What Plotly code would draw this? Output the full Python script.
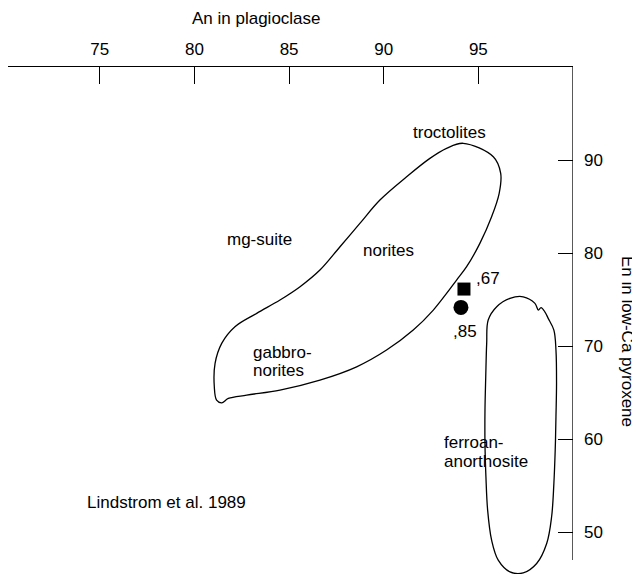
import plotly.graph_objects as go

# ---- data (An in plagioclase, En in low-Ca pyroxene) ----
mg_suite_an = [94.2, 95.79, 96.18, 96.1, 95.7, 95.08, 94.38, 93.85, 93.32, 92.62, 91.56, 90.15,
               88.57, 86.63, 84.52, 82.76, 81.79, 81.44, 81.17, 81.05, 81.09, 81.44, 82.14, 83.29,
               84.52, 85.58, 86.63, 87.69, 88.74, 89.8, 91.21, 92.44, 93.32, 94.2]
mg_suite_en = [91.8, 90.35, 88.57, 86.42, 83.9, 81.04, 78.53, 77.1, 75.66, 73.87, 71.72, 69.57,
               67.77, 66.34, 65.27, 64.73, 64.37, 63.9, 64.19, 65.62, 68.14, 70.29, 72.08, 73.52,
               74.95, 76.38, 78.17, 80.68, 83.19, 85.7, 88.2, 90.18, 91.26, 91.8]

fan_an = [95.52, 95.97, 96.67, 97.37, 97.99, 98.17, 98.31, 98.52, 98.69, 98.99, 99.1, 99.13,
          99.1, 99.06, 98.99, 98.87, 98.61, 98.08, 97.37, 96.67, 96.05, 95.7, 95.49, 95.4,
          95.35, 95.35, 95.39, 95.44, 95.52]
fan_en = [72.8, 74.23, 75.13, 75.3, 74.59, 73.87, 74.14, 73.66, 72.98, 71.72, 69.57, 65.99,
          62.4, 58.82, 55.24, 51.65, 48.78, 46.63, 45.62, 45.73, 46.99, 49.14, 52.37, 55.95,
          59.54, 63.12, 66.7, 70.29, 72.8]

sample_square = {"an": [94.24], "en": [76.13]}
sample_circle = {"an": [94.08], "en": [74.16]}

x_ticks = [75, 80, 85, 90, 95]
y_ticks = [50, 60, 70, 80, 90]
x_range = [70.15, 100]
y_range = [45.5, 100]
y_axis_min = 47

labels_text = ["troctolites", "mg-suite", "norites", "gabbro-", "norites", "ferroan-", "anorthosite",
               ",67", ",85", "Lindstrom et al. 1989"]
labels_an = [93.5, 83.46, 90.24, 82.99, 82.99, 93.06, 93.06, 95.52, 94.29, 78.55]
labels_en = [92.98, 81.47, 80.32, 69.32, 67.35, 59.6, 57.56, 77.28, 71.61, 53.23]
labels_xanchor = ["center", "center", "center", "left", "left", "left", "left",
                  "center", "center", "center"]

FONT = "Liberation Sans, Arial, sans-serif"
FS = 17
LW = 1.3

fig = go.Figure()
fig.add_trace(go.Scatter(x=mg_suite_an, y=mg_suite_en, mode="lines",
                         line=dict(color="black", width=LW, shape="spline", smoothing=1.0),
                         hoverinfo="skip"))
fig.add_trace(go.Scatter(x=fan_an, y=fan_en, mode="lines",
                         line=dict(color="black", width=LW, shape="spline", smoothing=1.0),
                         hoverinfo="skip"))
fig.add_trace(go.Scatter(x=sample_square["an"], y=sample_square["en"], mode="markers",
                         marker=dict(symbol="square", size=13, color="black")))
fig.add_trace(go.Scatter(x=sample_circle["an"], y=sample_circle["en"], mode="markers",
                         marker=dict(symbol="circle", size=15, color="black")))

for t, xa, ya, anc in zip(labels_text, labels_an, labels_en, labels_xanchor):
    fig.add_annotation(x=xa, y=ya, xref="x", yref="y", text=t, showarrow=False,
                       xanchor=anc, yanchor="middle", align="left",
                       font=dict(family=FONT, size=FS, color="black"))

# axis titles
fig.add_annotation(x=0.439, y=1.0947, xref="paper", yref="paper", text="An in plagioclase",
                   showarrow=False, xanchor="center", yanchor="middle",
                   font=dict(family=FONT, size=FS, color="black"))
fig.add_annotation(x=1.0956, y=0.4596, xref="paper", yref="paper", text="En in low-Ca pyroxene",
                   showarrow=False, textangle=90, xanchor="center", yanchor="middle",
                   font=dict(family=FONT, size=FS, color="black"))

# right-hand y axis line (ends at y_axis_min)
fig.add_shape(type="line", xref="x", yref="y", x0=x_range[1], x1=x_range[1],
              y0=y_axis_min, y1=y_range[1], line=dict(color="black", width=LW))

fig.update_layout(
    width=632, height=566,
    margin=dict(l=0, r=67, t=59, b=0),
    paper_bgcolor="white", plot_bgcolor="white",
    showlegend=False,
    font=dict(family=FONT, size=FS, color="black"),
    xaxis=dict(side="top", range=x_range, tickvals=x_ticks, ticks="inside", ticklen=17,
               tickwidth=LW, tickcolor="black", showline=True, linecolor="black", linewidth=LW,
               showgrid=False, zeroline=False, ticklabelstandoff=4,
               tickfont=dict(family=FONT, size=FS, color="black")),
    yaxis=dict(side="right", range=y_range, tickvals=y_ticks, ticks="inside", ticklen=15,
               tickwidth=LW, tickcolor="black", showline=False,
               showgrid=False, zeroline=False, ticklabelstandoff=10,
               tickfont=dict(family=FONT, size=FS, color="black")),
)

fig.write_html("out.html")
